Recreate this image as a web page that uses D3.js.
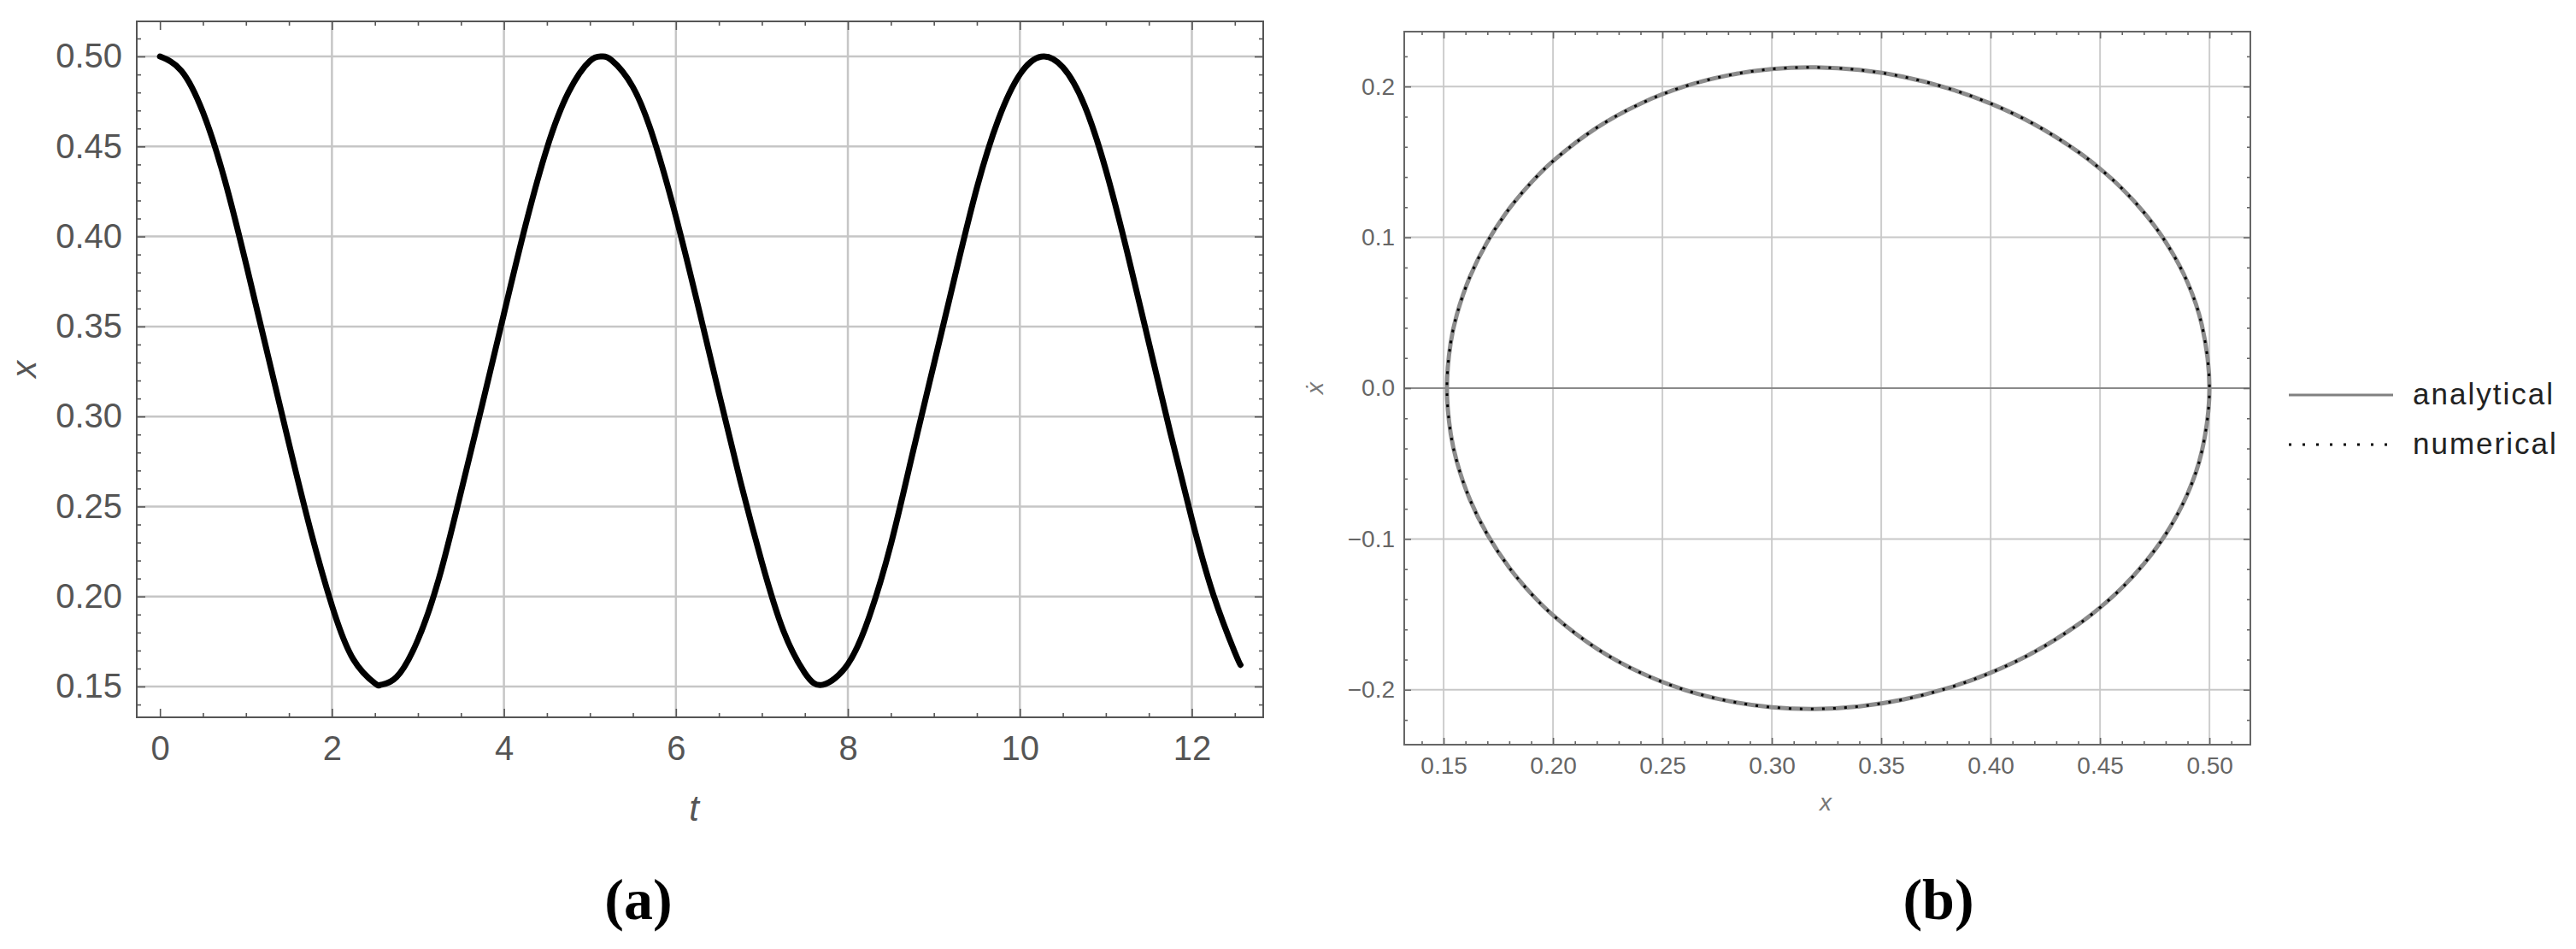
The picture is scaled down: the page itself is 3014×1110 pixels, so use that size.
<!DOCTYPE html>
<html>
<head>
<meta charset="utf-8">
<script src="https://cdn.jsdelivr.net/npm/d3@7"></script>
<style>
  body { margin: 0; background: #fff; }
  svg { display: block; }
</style>
</head>
<body>
<div id="chart"></div>
<script>

// ---- panel (a): x over t ----
const timeT = [0, 0.25, 0.5, 0.75, 1, 1.25, 1.5, 1.75, 2, 2.25, 2.5, 2.57, 2.75, 3, 3.25, 3.5, 3.75, 4, 4.25, 4.5, 4.75,
	5, 5.14, 5.25, 5.5, 5.75, 6, 6.25, 6.5, 6.75, 7, 7.25, 7.5, 7.71, 8, 8.25, 8.5, 8.75, 9, 9.25, 9.5, 9.75,
	10, 10.25, 10.5, 10.75, 11, 11.25, 11.5, 11.75, 12, 12.25, 12.5, 12.566];
const timeX = [0.500, 0.492, 0.469, 0.432, 0.385, 0.335, 0.285, 0.237, 0.195, 0.165, 0.1518, 0.151, 0.1552, 0.176, 0.211, 0.258, 0.307, 0.357, 0.406, 0.449, 0.480,
	0.4975, 0.500, 0.498, 0.483, 0.453, 0.411, 0.363, 0.313, 0.264, 0.219, 0.181, 0.1575, 0.151, 0.1625, 0.189, 0.229, 0.279, 0.329, 0.379, 0.427, 0.465,
	0.490, 0.4999, 0.494, 0.473, 0.437, 0.391, 0.341, 0.291, 0.243, 0.201, 0.169, 0.162];
const tTicks = [0, 2, 4, 6, 8, 10, 12];
const xTicksA = [0.15, 0.20, 0.25, 0.30, 0.35, 0.40, 0.45, 0.50];

// ---- panel (b): phase portrait, closed loop (upper half left->right, lower half right->left) ----
const phaseX = [0.1515, 0.1532, 0.1560, 0.1620, 0.1700, 0.1800, 0.1900, 0.2000, 0.2200, 0.2400, 0.2600, 0.2800, 0.3000, 0.3200,
	0.3400, 0.3600, 0.3800, 0.4000, 0.4200, 0.4400, 0.4500, 0.4600, 0.4700, 0.4800, 0.4900, 0.4965, 0.5000,
	0.4965, 0.4900, 0.4800, 0.4700, 0.4600, 0.4500, 0.4400, 0.4200, 0.4000, 0.3800, 0.3600, 0.3400, 0.3200,
	0.3000, 0.2800, 0.2600, 0.2400, 0.2200, 0.2000, 0.1900, 0.1800, 0.1700, 0.1620, 0.1560, 0.1532];
const phaseV = [0.000, 0.0298, 0.0485, 0.0738, 0.0971, 0.1190, 0.1363, 0.1506, 0.1727, 0.1887, 0.2000, 0.2074, 0.2116, 0.2127,
	0.2110, 0.2065, 0.1991, 0.1887, 0.1749, 0.1567, 0.1455, 0.1324, 0.1166, 0.0969, 0.0700, 0.0420, 0.000,
	-0.0420, -0.0700, -0.0969, -0.1166, -0.1324, -0.1455, -0.1567, -0.1749, -0.1887, -0.1991, -0.2065, -0.2110, -0.2127,
	-0.2116, -0.2074, -0.2000, -0.1887, -0.1727, -0.1506, -0.1363, -0.1190, -0.0971, -0.0738, -0.0485, -0.0298];
const xTicksB = [0.15, 0.20, 0.25, 0.30, 0.35, 0.40, 0.45, 0.50];
const vTicksB = [-0.2, -0.1, 0.0, 0.1, 0.2];

const legendLabels = ["analytical", "numerical"];
const panelLabels = ["(a)", "(b)"];


let svg = d3.select("#chart").append("svg")
	.attr("width", 3014)
	.attr("height", 1110);

svg.append("rect")
	.attr("width", 3014)
	.attr("height", 1110)
	.attr("fill", "#fff");


// draws the inward ticks on all four sides plus the labels on bottom/left
function drawFrame(g, x, y, s) {
	let [x0, x1] = x.range(), [y0, y1] = y.range();

	let sides = [
		{axis: d3.axisBottom, scale: x, pos: `translate(0,${y0})`, major: s.xMajor, minor: s.xMinor, fmt: s.xFmt, pad: s.xPad},
		{axis: d3.axisTop, scale: x, pos: `translate(0,${y1})`, major: s.xMajor, minor: s.xMinor, fmt: null},
		{axis: d3.axisLeft, scale: y, pos: `translate(${x0},0)`, major: s.yMajor, minor: s.yMinor, fmt: s.yFmt, pad: s.yPad},
		{axis: d3.axisRight, scale: y, pos: `translate(${x1},0)`, major: s.yMajor, minor: s.yMinor, fmt: null}
	];

	sides.forEach(d => {
		g.append("g")
			.attr("transform", d.pos)
			.call(d.axis(d.scale).tickValues(d.minor).tickSize(-s.minorLen).tickFormat(""))
			.call(a => a.select(".domain").remove());

		let maj = g.append("g")
			.attr("class", "major")
			.attr("transform", d.pos)
			.call(d.axis(d.scale).tickValues(d.major).tickSize(-s.majorLen)
				.tickPadding(d.pad || 0)
				.tickFormat(d.fmt ? d.fmt : ""));
		maj.select(".domain").remove();
	});

	g.selectAll(".tick line")
		.attr("stroke", s.color)
		.attr("stroke-width", 1.6);

	g.selectAll(".tick text")
		.attr("fill", s.textColor)
		.style("font-family", "'Liberation Sans', Arial, sans-serif")
		.style("font-size", s.fontSize + "px");

	g.append("rect")
		.attr("x", x0)
		.attr("y", y1)
		.attr("width", x1 - x0)
		.attr("height", y0 - y1)
		.attr("fill", "none")
		.attr("stroke", s.color)
		.attr("stroke-width", 2);
}


// ================= panel (a) =================
let xA = d3.scaleLinear().domain([-0.27, 12.83]).range([160, 1478]);
let yA = d3.scaleLinear().domain([0.1329, 0.5195]).range([839, 25]);

let gA = svg.append("g").attr("class", "panel-a");

// grid
gA.selectAll(".vgrid")
	.data(tTicks.filter(d => d > 0))
	.enter().append("line")
	.attr("x1", d => xA(d)).attr("x2", d => xA(d))
	.attr("y1", yA.range()[0]).attr("y2", yA.range()[1])
	.attr("stroke", "#c6c6c6")
	.attr("stroke-width", 2.5);

gA.selectAll(".hgrid")
	.data(xTicksA)
	.enter().append("line")
	.attr("x1", xA.range()[0]).attr("x2", xA.range()[1])
	.attr("y1", d => yA(d)).attr("y2", d => yA(d))
	.attr("stroke", "#c6c6c6")
	.attr("stroke-width", 2.5);

// curve
let lineA = d3.line()
	.x((d, i) => xA(timeT[i]))
	.y(d => yA(d))
	.curve(d3.curveNatural);

gA.append("path")
	.datum(timeX)
	.attr("d", lineA)
	.attr("fill", "none")
	.attr("stroke", "#000")
	.attr("stroke-width", 7)
	.attr("stroke-linecap", "round")
	.attr("stroke-linejoin", "round");

drawFrame(gA, xA, yA, {
	xMajor: tTicks, xMinor: d3.range(0, 12.6, 0.5).filter(d => d % 2 !== 0),
	yMajor: xTicksA, yMinor: d3.range(14, 52, 1).map(d => d / 100).filter(d => Math.round(d * 100) % 5 !== 0),
	xFmt: d3.format("d"), yFmt: d3.format(".2f"),
	xPad: 22, yPad: 17, majorLen: 10, minorLen: 5,
	color: "#555", textColor: "#555", fontSize: 40
});

// axis labels
gA.append("text")
	.attr("x", 812)
	.attr("y", 960)
	.attr("text-anchor", "middle")
	.attr("fill", "#555")
	.style("font-family", "'Liberation Sans', Arial, sans-serif")
	.style("font-style", "italic")
	.style("font-size", "42px")
	.text("t");

gA.append("text")
	.attr("transform", "translate(42, 432) rotate(-90)")
	.attr("text-anchor", "middle")
	.attr("fill", "#555")
	.style("font-family", "'Liberation Sans', Arial, sans-serif")
	.style("font-style", "italic")
	.style("font-size", "40px")
	.text("x");


// ================= panel (b) =================
let xB = d3.scaleLinear().domain([0.1320, 0.5187]).range([1643, 2633]);
let yB = d3.scaleLinear().domain([-0.2364, 0.2364]).range([871, 37]);

let gB = svg.append("g").attr("class", "panel-b");

gB.selectAll(".vgrid")
	.data(xTicksB)
	.enter().append("line")
	.attr("x1", d => xB(d)).attr("x2", d => xB(d))
	.attr("y1", yB.range()[0]).attr("y2", yB.range()[1])
	.attr("stroke", "#cdcdcd")
	.attr("stroke-width", 2);

gB.selectAll(".hgrid")
	.data(vTicksB)
	.enter().append("line")
	.attr("x1", xB.range()[0]).attr("x2", xB.range()[1])
	.attr("y1", d => yB(d)).attr("y2", d => yB(d))
	.attr("stroke", d => d === 0 ? "#8a8a8a" : "#c8c8c8")
	.attr("stroke-width", 2);

let lineB = d3.line()
	.x(d => xB(d))
	.y((d, i) => yB(phaseV[i]))
	.curve(d3.curveCatmullRomClosed);

// analytical
gB.append("path")
	.datum(phaseX)
	.attr("d", lineB)
	.attr("fill", "none")
	.attr("stroke", "#8c8c8c")
	.attr("stroke-width", 5);

// numerical
gB.append("path")
	.datum(phaseX)
	.attr("d", lineB)
	.attr("fill", "none")
	.attr("stroke", "#000")
	.attr("stroke-width", 3)
	.attr("stroke-dasharray", "3 10");

drawFrame(gB, xB, yB, {
	xMajor: xTicksB, xMinor: d3.range(14, 52, 1).map(d => d / 100).filter(d => Math.round(d * 100) % 5 !== 0),
	yMajor: vTicksB, yMinor: d3.range(-22, 23, 2).map(d => d / 100).filter(d => Math.round(d * 100) % 10 !== 0),
	xFmt: d3.format(".2f"), yFmt: d3.format(".1f"),
	xPad: 14, yPad: 11, majorLen: 8, minorLen: 4,
	color: "#666", textColor: "#666", fontSize: 28
});

gB.append("text")
	.attr("x", 2136)
	.attr("y", 948)
	.attr("text-anchor", "middle")
	.attr("fill", "#777")
	.style("font-family", "'Liberation Sans', Arial, sans-serif")
	.style("font-style", "italic")
	.style("font-size", "28px")
	.text("x");

gB.append("text")
	.attr("transform", "translate(1548, 454) rotate(-90)")
	.attr("text-anchor", "middle")
	.attr("fill", "#777")
	.style("font-family", "'Liberation Sans', Arial, sans-serif")
	.style("font-style", "italic")
	.style("font-size", "28px")
	.text("ẋ");


// legend
let legend = svg.append("g").attr("class", "legend");

let legendRows = legend.selectAll(".row")
	.data(legendLabels)
	.enter().append("g")
	.attr("class", "row")
	.attr("transform", (d, i) => `translate(2678, ${462 + i * 58})`);

legendRows.append("line")
	.attr("x1", 0).attr("x2", 122)
	.attr("stroke", (d, i) => i === 0 ? "#808080" : "#000")
	.attr("stroke-width", 3)
	.attr("stroke-dasharray", (d, i) => i === 0 ? null : "3 13");

legendRows.append("text")
	.attr("x", 145)
	.attr("y", 11)
	.attr("fill", "#222")
	.style("font-family", "'Liberation Sans', Arial, sans-serif")
	.style("font-size", "35px")
	.style("letter-spacing", "2px")
	.text(d => d);


// panel captions
svg.selectAll(".caption")
	.data(panelLabels)
	.enter().append("text")
	.attr("class", "caption")
	.attr("x", (d, i) => i === 0 ? 747 : 2268)
	.attr("y", 1075)
	.attr("text-anchor", "middle")
	.attr("fill", "#000")
	.style("font-family", "'Liberation Serif', 'Times New Roman', serif")
	.style("font-weight", "bold")
	.style("font-size", "68px")
	.text(d => d);

</script>
</body>
</html>
